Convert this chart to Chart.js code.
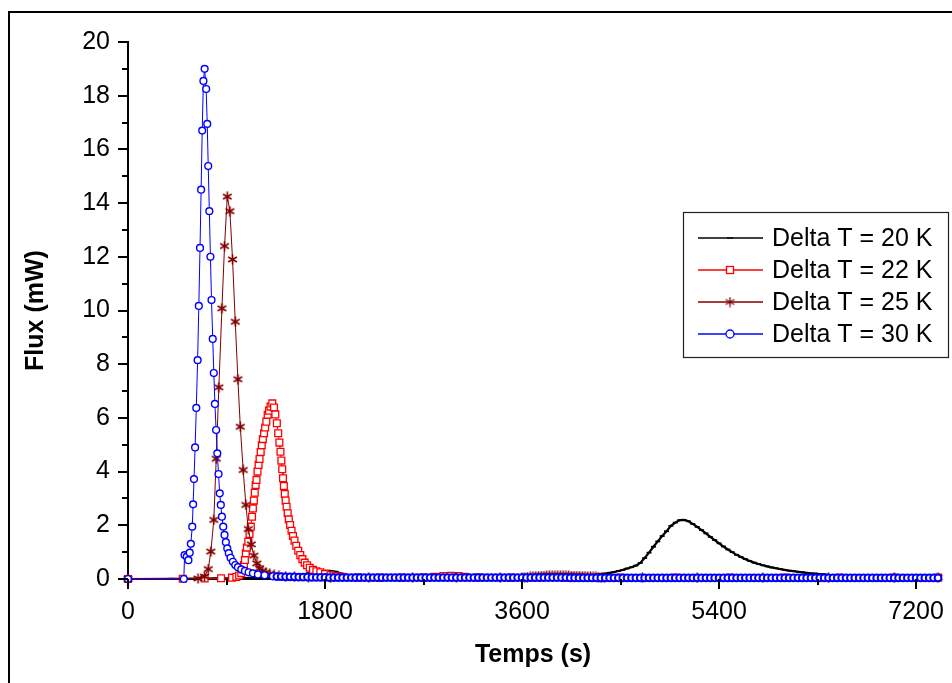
<!DOCTYPE html>
<html>
<head>
<meta charset="utf-8">
<script src="https://cdn.jsdelivr.net/npm/chart.js"></script>
<style>
    html, body { margin: 0; padding: 0; background: #fff; }
    #wrap { width: 952px; height: 683px; }
</style>
</head>
<body>
<div id="wrap"><canvas id="myChart" width="952" height="683"></canvas></div>
<script>
const FONT = "'Liberation Sans', Arial, sans-serif";

const LABELS = ['Delta T = 20 K', 'Delta T = 22 K', 'Delta T = 25 K', 'Delta T = 30 K'];

// Delta T = 20 K (black)
const time20Pre = [0, 400, 800, 1200, 1400, 1500, 1550, 1600, 1650, 1700, 1750, 1800, 1850, 1900, 1950, 2000, 2100, 2300, 2700, 3100, 3500, 3800, 4000, 4100, 4200];
const flux20Pre = [0, 0.01, 0.02, 0.04, 0.06, 0.10, 0.13, 0.17, 0.21, 0.25, 0.28, 0.30, 0.30, 0.27, 0.20, 0.14, 0.08, 0.05, 0.04, 0.04, 0.05, 0.07, 0.09, 0.11, 0.13];
const hump20Start = 4240, hump20Step = 40;
const hump20 = [0.14, 0.16, 0.18, 0.20, 0.23, 0.26, 0.30, 0.34, 0.39, 0.44,
    0.50, 0.60, 0.78, 0.98, 1.20, 1.40, 1.60, 1.78, 1.98, 2.10,
    2.19, 2.20, 2.15, 2.05, 1.94, 1.82, 1.70, 1.57, 1.45, 1.33,
    1.21, 1.10, 1.00, 0.90, 0.82, 0.74, 0.67, 0.61, 0.56, 0.51,
    0.47, 0.43, 0.40, 0.37, 0.34, 0.31, 0.29, 0.27, 0.25, 0.23,
    0.21, 0.20, 0.18, 0.17, 0.15, 0.13, 0.12, 0.10];
const time20Post = [6600, 6800, 7000, 7200, 7400];
const flux20Post = [0.08, 0.06, 0.05, 0.05, 0.05];

// Delta T = 22 K (red squares)
const time22 = [0, 500, 700, 850, 950, 990, 1015, 1035, 1050, 1059,
    1068, 1076, 1086, 1099, 1110, 1122, 1133, 1141, 1150, 1158,
    1166, 1174, 1183, 1193, 1202, 1212, 1222, 1232, 1243, 1253,
    1264, 1276, 1288, 1302, 1318, 1334, 1346, 1360, 1372, 1383,
    1393, 1401, 1409, 1416, 1424, 1432, 1440, 1449, 1459, 1469,
    1481, 1494, 1507, 1521, 1537, 1555, 1574, 1593, 1614, 1636,
    1660, 1690, 1721, 1757, 1800, 1850, 1900, 1960, 2100, 2300,
    2500, 2700, 2800, 2880, 2950, 3020, 3080, 3200, 3500, 4000,
    4500, 5000, 5500, 6000, 6500, 7000, 7400];
const flux22 = [0, 0.01, 0.02, 0.03, 0.05, 0.08, 0.13, 0.22, 0.36, 0.52,
    0.71, 0.96, 1.17, 1.39, 1.68, 1.95, 2.32, 2.63, 2.92, 3.21,
    3.50, 3.69, 4.00, 4.25, 4.47, 4.73, 4.98, 5.21, 5.43, 5.64,
    5.86, 6.12, 6.27, 6.42, 6.54, 6.39, 6.13, 5.80, 5.43, 5.08,
    4.74, 4.41, 4.09, 3.75, 3.46, 3.17, 2.92, 2.69, 2.45, 2.22,
    2.01, 1.80, 1.60, 1.43, 1.24, 1.05, 0.89, 0.74, 0.61, 0.51,
    0.42, 0.34, 0.29, 0.25, 0.19, 0.14, 0.10, 0.08, 0.06, 0.05,
    0.05, 0.06, 0.08, 0.11, 0.12, 0.11, 0.08, 0.06, 0.05, 0.05,
    0.05, 0.05, 0.05, 0.05, 0.05, 0.05, 0.05];

// Delta T = 25 K (dark red stars)
const time25 = [0, 640, 699, 733, 757, 784, 806, 830, 858, 882,
    907, 931, 955, 980, 1004, 1026, 1052, 1077, 1099, 1126,
    1150, 1177, 1202, 1230, 1260, 1295, 1335, 1380, 1440, 1520,
    1650, 1850, 2200, 2600, 3000, 3400, 3600];
const flux25 = [0, 0.02, 0.09, 0.37, 1.02, 2.20, 4.48, 7.14, 10.08, 12.40,
    14.24, 13.70, 11.90, 9.58, 7.44, 5.67, 4.06, 2.76, 1.86, 1.29,
    0.87, 0.58, 0.40, 0.30, 0.24, 0.19, 0.15, 0.12, 0.10, 0.08,
    0.06, 0.05, 0.05, 0.05, 0.05, 0.05, 0.06];
const bump25Start = 3625, bump25Step = 25;
const bump25 = [0.06, 0.07, 0.08, 0.09, 0.10, 0.10, 0.11, 0.11, 0.12, 0.12,
    0.12, 0.12, 0.12, 0.12, 0.12, 0.12, 0.12, 0.11, 0.11, 0.11,
    0.10, 0.10, 0.10, 0.09, 0.09, 0.08, 0.08, 0.07, 0.06, 0.05];
const time25Post = [4700, 5200, 5800, 6400, 7000, 7400];
const flux25Post = [0.05, 0.05, 0.05, 0.05, 0.05, 0.05];

// Delta T = 30 K (blue circles)
const time30 = [0, 510, 517, 537, 552, 564, 574, 587, 595, 603,
    613, 624, 636, 647, 658, 668, 678, 689, 700, 714,
    724, 733, 743, 753, 763, 774, 784, 794, 805, 816,
    827, 838, 848, 858, 870, 882, 894, 907, 921, 937,
    958, 980, 1004, 1035, 1068, 1102, 1141, 1187, 1248, 1324];
const flux30 = [0, 0, 0.89, 0.83, 0.70, 0.98, 1.31, 1.95, 2.78, 3.72,
    4.90, 6.37, 8.15, 10.17, 12.33, 14.50, 16.70, 18.55, 19.00, 18.25,
    16.95, 15.38, 13.70, 12.00, 10.39, 8.94, 7.67, 6.52, 5.55, 4.68,
    3.91, 3.19, 2.76, 2.32, 1.95, 1.64, 1.37, 1.14, 0.96, 0.79,
    0.64, 0.52, 0.44, 0.36, 0.30, 0.25, 0.21, 0.17, 0.14, 0.10];
const tail30Start = 1360, tail30Step = 40;
const tail30 = [0.09, 0.09, 0.08, 0.08, 0.08, 0.07, 0.07, 0.07, 0.06, 0.06, 0.06, 0.06, 0.05, 0.05, 0.05, 0.05,
    0.05, 0.05, 0.05, 0.05, 0.05, 0.05, 0.05, 0.05, 0.05, 0.05, 0.05, 0.05, 0.05, 0.05, 0.05, 0.05, 0.05,
    0.05, 0.05, 0.05, 0.05, 0.05, 0.05, 0.05, 0.05, 0.05, 0.05, 0.05, 0.05, 0.05, 0.05, 0.05, 0.05, 0.05,
    0.05, 0.05, 0.05, 0.05, 0.05, 0.05, 0.05, 0.05, 0.05, 0.05, 0.05, 0.05, 0.05, 0.05, 0.05, 0.05, 0.05,
    0.04, 0.04, 0.04, 0.04, 0.04, 0.04, 0.04, 0.04, 0.04, 0.04, 0.04, 0.04, 0.04, 0.04, 0.04, 0.04, 0.04,
    0.04, 0.04, 0.04, 0.04, 0.04, 0.04, 0.04, 0.04, 0.04, 0.04, 0.04, 0.04, 0.04, 0.04, 0.04, 0.04, 0.04,
    0.04, 0.04, 0.04, 0.04, 0.04, 0.04, 0.04, 0.04, 0.04, 0.04, 0.04, 0.04, 0.04, 0.04, 0.04, 0.04, 0.04,
    0.04, 0.04, 0.04, 0.04, 0.04, 0.04, 0.04, 0.04, 0.04, 0.04, 0.04, 0.04, 0.04, 0.04, 0.04, 0.04, 0.04,
    0.04, 0.04, 0.04, 0.04, 0.04, 0.04, 0.04, 0.04, 0.04, 0.04, 0.04, 0.04, 0.04, 0.04, 0.04, 0.04, 0.04];

const X_TICKS = [0, 1800, 3600, 5400, 7200];
const Y_TICKS = [0, 2, 4, 6, 8, 10, 12, 14, 16, 18, 20];
const X_MINOR = 900;
const Y_MINOR = 1;

function paired(times, values) {
    return times.map((t, i) => ({ x: t, y: values[i] }));
}
function sampled(start, step, values) {
    return values.map((v, i) => ({ x: start + i * step, y: v }));
}

// 6-armed asterisk like the original symbol
function asterisk(color, r, w) {
    var c = document.createElement('canvas');
    c.width = c.height = 2 * r + 1;
    var g = c.getContext('2d');
    g.strokeStyle = color;
    g.lineWidth = w;
    g.beginPath();
    [90, 30, 150].forEach(function (a) {
        var rad = a * Math.PI / 180, cx = r + 0.5;
        g.moveTo(cx - r * Math.cos(rad), cx - r * Math.sin(rad));
        g.lineTo(cx + r * Math.cos(rad), cx + r * Math.sin(rad));
    });
    g.stroke();
    return c;
}

const DARKRED = '#800000';
const starSmall = asterisk(DARKRED, 5, 1.6);
const starBig = asterisk(DARKRED, 5, 1.3);

const frame = {
    id: 'frame',
    beforeDraw(chart) {
        const ctx = chart.ctx;
        ctx.save();
        ctx.fillStyle = '#fff';
        ctx.fillRect(0, 0, chart.width, chart.height);
        ctx.fillStyle = '#000';
        ctx.fillRect(8, 11, 2, chart.height);
        ctx.fillRect(8, 11, chart.width, 2);
        ctx.restore();
    }
};

const axisTicks = {
    id: 'axisTicks',
    afterDraw(chart) {
        const { ctx, chartArea } = chart;
        const x = chart.scales.x, y = chart.scales.y;
        ctx.save();
        ctx.strokeStyle = '#000';
        ctx.lineWidth = 2;
        ctx.beginPath();
        for (let v = y.min; v <= y.max; v += Y_MINOR) {
            const py = Math.round(y.getPixelForValue(v));
            const len = Y_TICKS.includes(v) ? 10 : 6;
            ctx.moveTo(chartArea.left - len, py);
            ctx.lineTo(chartArea.left, py);
        }
        for (let t = 0; t <= x.max; t += X_MINOR) {
            const px = Math.round(x.getPixelForValue(t));
            const len = X_TICKS.includes(t) ? 10 : 6;
            ctx.moveTo(px, chartArea.bottom);
            ctx.lineTo(px, chartArea.bottom + len);
        }
        ctx.stroke();
        ctx.restore();
    }
};

function drawMarker(ctx, ds, x, y) {
    ctx.save();
    ctx.lineWidth = 1.3;
    ctx.strokeStyle = ds.pointBorderColor;
    ctx.fillStyle = ds.pointBackgroundColor;
    var st = ds.pointStyle;
    if (st === 'circle') {
        ctx.beginPath();
        ctx.arc(x, y, 4, 0, 2 * Math.PI);
        ctx.fill();
        ctx.stroke();
    } else if (st === 'rect') {
        ctx.fillRect(x - 3.5, y - 3.5, 7, 7);
        ctx.strokeRect(x - 3.5, y - 3.5, 7, 7);
    } else if (st === 'line') {
        ctx.beginPath();
        ctx.moveTo(x - 3, y);
        ctx.lineTo(x + 3, y);
        ctx.stroke();
    } else {
        ctx.drawImage(starBig, x - starBig.width / 2, y - starBig.height / 2);
    }
    ctx.restore();
}

const legendBox = {
    id: 'legendBox',
    afterDraw(chart) {
        const { ctx, chartArea } = chart;
        const right = chartArea.right + 10, left = right - 265;
        const top = chartArea.top + 170, h = 145;
        ctx.save();
        ctx.fillStyle = '#fff';
        ctx.fillRect(left, top, right - left, h);
        ctx.strokeStyle = '#222';
        ctx.lineWidth = 1.2;
        ctx.strokeRect(left + 0.5, top + 0.5, right - left, h);
        ctx.font = '25px ' + FONT;
        ctx.textBaseline = 'middle';
        chart.data.datasets.forEach(function (ds, i) {
            const yy = top + 26 + i * 32;
            ctx.strokeStyle = ds.borderColor;
            ctx.lineWidth = 1.3;
            ctx.beginPath();
            ctx.moveTo(left + 15, yy);
            ctx.lineTo(left + 80, yy);
            ctx.stroke();
            drawMarker(ctx, ds, left + 47, yy);
            ctx.fillStyle = '#000';
            ctx.fillText(ds.label, left + 89, yy + 1);
        });
        ctx.restore();
    }
};

const data20 = paired(time20Pre, flux20Pre).concat(sampled(hump20Start, hump20Step, hump20), paired(time20Post, flux20Post));
const data22 = paired(time22, flux22);
const data25 = paired(time25, flux25).concat(sampled(bump25Start, bump25Step, bump25), paired(time25Post, flux25Post));
const data30 = paired(time30, flux30).concat(sampled(tail30Start, tail30Step, tail30));

var ctx = document.getElementById('myChart');
var myChart = new Chart(ctx, {
    type: 'line',
    data: {
        datasets: [{
            label: LABELS[0],
            data: data20,
            order: 3,
            clip: false,
            borderColor: '#000',
            borderWidth: 2.2,
            pointStyle: 'line',
            pointRadius: 2.5,
            pointBorderWidth: 1.8,
            pointBorderColor: '#000',
            pointBackgroundColor: '#000'
        }, {
            label: LABELS[1],
            data: data22,
            order: 2,
            clip: false,
            borderColor: '#ff0000',
            borderWidth: 1,
            pointStyle: 'rect',
            pointRadius: 4.8,
            pointBorderWidth: 1.3,
            pointBorderColor: '#ff0000',
            pointBackgroundColor: '#fff'
        }, {
            label: LABELS[2],
            data: data25,
            order: 1,
            clip: false,
            borderColor: DARKRED,
            borderWidth: 1,
            pointStyle: starSmall,
            pointRadius: 5,
            pointBorderWidth: 1.2,
            pointBorderColor: DARKRED,
            pointBackgroundColor: DARKRED
        }, {
            label: LABELS[3],
            data: data30,
            order: 0,
            clip: false,
            borderColor: '#0000ff',
            borderWidth: 1,
            pointStyle: 'circle',
            pointRadius: 3.4,
            // the long flat tail is a dense overlapping band of symbols
            pointBorderWidth: c => (c.raw && c.raw.x >= tail30Start ? 2 : 1.4),
            pointBorderColor: '#0000ff',
            pointBackgroundColor: '#fff'
        }]
    },
    options: {
        responsive: false,
        animation: false,
        events: [],
        layout: { padding: { top: 42, right: 14, left: 0, bottom: 0 } },
        elements: { line: { tension: 0 } },
        plugins: { legend: { display: false }, tooltip: { enabled: false } },
        scales: {
            x: {
                type: 'linear',
                min: 0,
                max: 7400,
                afterFit: function (s) { s.height = 104; s.paddingLeft = 0; s.paddingRight = 0; },
                afterBuildTicks: function (s) { s.ticks = X_TICKS.map(v => ({ value: v })); },
                grid: { display: false, drawTicks: false },
                border: { display: true, color: '#000', width: 2 },
                ticks: {
                    autoSkip: false, maxRotation: 0, padding: 18, color: '#000',
                    font: { family: FONT, size: 25 },
                    callback: v => String(v)
                },
                title: {
                    display: true, text: 'Temps (s)', color: '#000',
                    font: { family: FONT, size: 25, weight: 'bold' },
                    padding: { top: 0, bottom: 13 }
                }
            },
            y: {
                min: 0,
                max: 20,
                afterFit: function (s) { s.width = 128; s.paddingTop = 0; s.paddingBottom = 0; },
                afterBuildTicks: function (s) { s.ticks = Y_TICKS.map(v => ({ value: v })); },
                grid: { display: false, drawTicks: false },
                border: { display: true, color: '#000', width: 2 },
                ticks: {
                    autoSkip: false, padding: 18, color: '#000',
                    font: { family: FONT, size: 25 },
                    callback: v => String(v)
                },
                title: {
                    display: true, text: 'Flux (mW)', color: '#000',
                    font: { family: FONT, size: 25, weight: 'bold' },
                    padding: { top: 21, bottom: 0 }
                }
            }
        }
    },
    plugins: [frame, axisTicks, legendBox]
});
</script>
</body>
</html>
